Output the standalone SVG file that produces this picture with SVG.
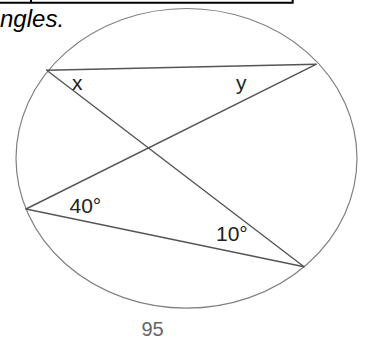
<svg xmlns="http://www.w3.org/2000/svg" width="365" height="339" viewBox="0 0 365 339">
<style>
.frame{stroke:#000;stroke-width:2;fill:none}
.circ{stroke:#808080;stroke-width:1.2;fill:none}
.ln{stroke:#555;stroke-width:1.4;fill:none;stroke-linecap:round}
.lbl{font-family:"Liberation Sans",Arial,sans-serif;font-size:21px;fill:#222}
.pg{font-family:"Liberation Sans",Arial,sans-serif;font-size:20px;fill:#666}
.hd{font-family:"Liberation Sans",Arial,sans-serif;font-size:24px;font-style:italic;fill:#000}
</style>
<rect width="365" height="339" fill="#fff"/>
<g id="frame">
<path class="frame" d="M0 2.8H293.5M31 0V3.5M292.7 0V3.5"/>
</g>
<text class="hd" x="0" y="27">ngles.</text>
<g id="circle">
<ellipse class="circ" cx="186.5" cy="158.3" rx="170.5" ry="149.8"/>
</g>
<g id="connectors">
<line class="ln" x1="46.7" y1="70.2" x2="316" y2="64.3"/>
<line class="ln" x1="46.7" y1="70.2" x2="304" y2="266.7"/>
<line class="ln" x1="316" y1="64.3" x2="26" y2="209"/>
<line class="ln" x1="26" y1="209" x2="304" y2="266.7"/>
</g>
<g id="labels">
<text class="lbl" x="72" y="90">x</text>
<text class="lbl" x="236" y="90">y</text>
<text class="lbl" x="69.5" y="213.3">40°</text>
<text class="lbl" x="216" y="241">10°</text>
</g>
<text class="pg" x="141.5" y="335.5">95</text>
</svg>
